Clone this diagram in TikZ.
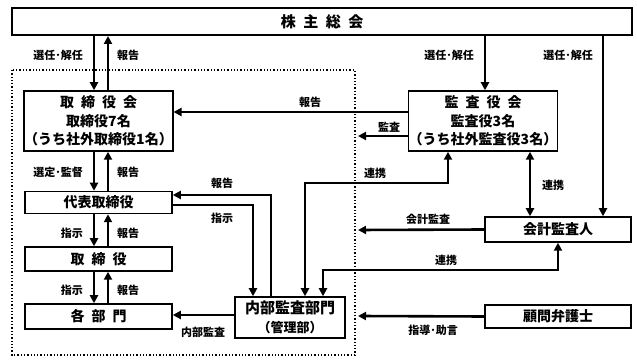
\documentclass[tikz,border=0pt]{standalone}
\usepackage{fontspec}
\setmainfont{Noto Sans CJK JP}
\usetikzlibrary{arrows.meta}
\newcommand{\gap}{\hspace{0.5em}}
\tikzset{
  box/.style={draw, line width=1.5pt, fill=white, align=center, inner sep=0pt, font=\fontsize{14}{18.5}\selectfont\bfseries},
  arr/.style={line width=2.6pt, -{Triangle[length=8pt,width=8pt]}},
  darr/.style={line width=2.6pt, {Triangle[length=8pt,width=8pt]}-{Triangle[length=8pt,width=8pt]}},
  lbl/.style={font=\fontsize{11}{12}\selectfont\bfseries, inner sep=1pt},
}
\begin{document}
\begin{tikzpicture}[x=1pt,y=-1pt]
\useasboundingbox (0,0) rectangle (637,363);
% Company area
\draw[dotted, line width=1.3pt] (12,70) rectangle (355,355);
% Boxes
\node[box, line width=2pt, minimum width=620, minimum height=27, font=\fontsize{15}{15}\selectfont\bfseries] (kabu) at (322,21.5) {株\gap{}主\gap{}総\gap{}会};
\node[box, minimum width=147, minimum height=60] (torikai) at (98.5,121) {取\gap{}締\gap{}役\gap{}会\\取締役7名\\（うち社外取締役1名）};
\node[box, minimum width=146, minimum height=60] (kansa) at (483,121) {監\gap{}査\gap{}役\gap{}会\\監査役3名\\（うち社外監査役3名）};
\node[box, minimum width=147, minimum height=22] (daihyo) at (98.5,202.5) {代表取締役};
\node[box, minimum width=147, minimum height=24] (tori) at (98.5,259) {取\gap{}締\gap{}役};
\node[box, minimum width=147, minimum height=25] (bumon) at (98.5,316.5) {各\gap{}部\gap{}門};
\node[box, minimum width=110, minimum height=41, font=\fontsize{15}{19}\selectfont\bfseries] (naibu) at (290,317.5) {内部監査部門\\{\fontsize{13}{15}\selectfont（管理部）}};
\node[box, minimum width=146, minimum height=25] (kaikei) at (558,229.5) {会計監査人};
\node[box, minimum width=146, minimum height=23] (komon) at (558,316.5) {顧問弁護士};
% Free ends at the company line
\coordinate (e-kansa) at (358,136);
\coordinate (e-kaikei) at (358,230);
\coordinate (e-komon) at (358,316);
% Left column
\foreach \a/\b/\down/\up/\y in {kabu/torikai/選任･解任/報告/55, torikai/daihyo/選定･監督/報告/172, daihyo/tori/指示/報告/233, tori/bumon/指示/報告/290}{
  \draw[arr] (\a.south -| 94,0) -- (\b.north -| 94,0);
  \draw[arr] (\b.north -| 108,0) -- (\a.south -| 108,0);
  \node[lbl, anchor=east] (d-\b) at (84,\y) {\down};
  \node[lbl, anchor=west] (u-\b) at (116,\y) {\up};
}
% Shareholders to auditors
\draw[arr] (kabu.south -| 485,0) -- (kansa.north -| 485,0);
\node[lbl] (l-kansa) at (449,55) {選任･解任};
\draw[arr] (kabu.south -| 603,0) -- (kaikei.north -| 603,0);
\node[lbl] (l-kaikei) at (568,55) {選任･解任};
% Auditors
\draw[arr] (kansa.west |- 0,112) -- (torikai.east |- 0,112);
\node[lbl] (l-hokoku) at (310,102) {報告};
\draw[arr] (kansa.west |- 0,136) -- (e-kansa);
\node[lbl] (l-kansa2) at (389,127) {監査};
\draw[darr] (naibu.north -| 305,0) -- (305,183) -- (448,183) -- (kansa.south -| 448,0);
\node[lbl] (l-renkei1) at (375,173) {連携};
\draw[darr] (kansa.south -| 530,0) -- (kaikei.north -| 530,0);
\node[lbl] (l-renkei2) at (553,185) {連携};
\draw[arr] (kaikei.west) -- (e-kaikei);
\node[lbl] (l-kaikei2) at (428,219) {会計監査};
\draw[darr] (kaikei.south -| 558,0) -- (558,270) -- (323,270) -- (naibu.north -| 323,0);
\node[lbl] (l-renkei3) at (446,260) {連携};
\draw[arr] (komon.west) -- (e-komon);
\node[lbl] (l-komon) at (433,330) {指導･助言};
% Internal audit
\draw[arr] (naibu.north -| 271,0) -- (271,195) -- (daihyo.east |- 0,195);
\node[lbl] (l-hokoku2) at (222,183) {報告};
\draw[arr] (daihyo.east |- 0,205) -- (253,205) -- (naibu.north -| 253,0);
\node[lbl] (l-shiji) at (222,218) {指示};
\draw[arr] (naibu.west |- 0,315) -- (bumon.east |- 0,315);
\node[lbl] (l-naibu) at (203,332) {内部監査};
\end{tikzpicture}
\end{document}
